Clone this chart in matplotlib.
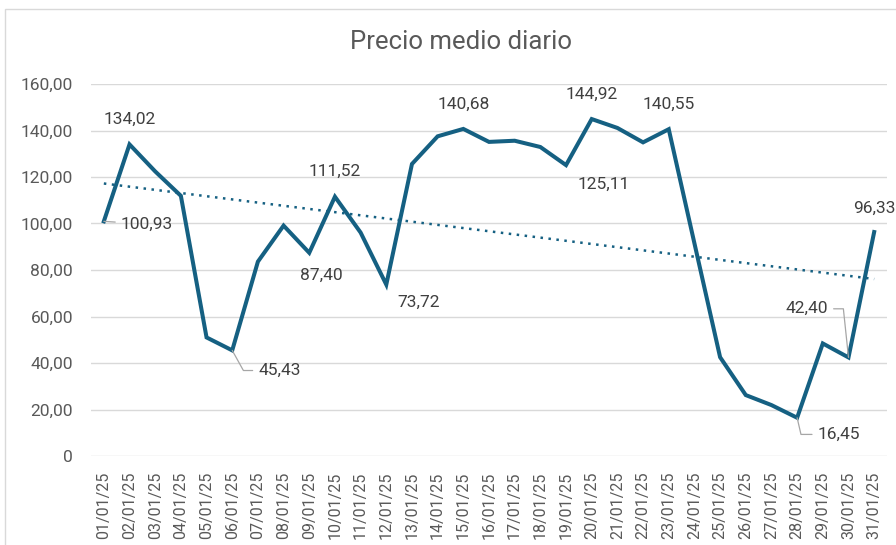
import numpy as np
import matplotlib.pyplot as plt
from matplotlib.patches import Rectangle
from matplotlib.ticker import FuncFormatter

plt.rcParams['font.family'] = ['Roboto', 'DejaVu Sans']

# Datos del gráfico
fechas = [f"{d:02d}/01/25" for d in range(1, 32)]
precios = [100.93, 134.02, 122.4, 111.9, 51.0, 45.43, 83.6, 99.1, 87.40, 111.52,
           96.1, 73.72, 125.6, 137.5, 140.68, 135.1, 135.6, 132.9, 125.11, 144.92,
           141.1, 134.9, 140.55, 91.5, 42.5, 26.2, 21.9, 16.45, 48.4, 42.40, 96.33]
y_ticks = [0, 20, 40, 60, 80, 100, 120, 140, 160]

# etiquetas: indice -> (dx, dy en puntos, angulo de la linea guia o None)
etiquetas = {
    0: (31, -2, 'recta'),
    1: (0, 18, None),
    5: (34, -14.5, -61),
    8: (9, -16, None),
    9: (0, 18, None),
    11: (23, -13, None),
    14: (0, 18, None),
    18: (27, -14, None),
    19: (0, 18, None),
    22: (0, 18, None),
    27: (30, -12, -77),
    29: (-30, 35, 96),
    30: (0, 17, None),
}

color = '#156082'
gris = '#595959'

fig = plt.figure(figsize=(8.96, 5.45), dpi=100)
fig.patches.append(Rectangle((5 / 896, 1 - 547 / 545), 895 / 896, 538 / 545,
                             transform=fig.transFigure, fill=False,
                             edgecolor='#D9D9D9', linewidth=1.0))
ax = fig.add_axes([91 / 896, 1 - 456 / 545, 796 / 896, 372 / 545])

x = np.arange(1, len(precios) + 1)
ax.plot(x, precios, color=color, linewidth=2.9, solid_joinstyle='miter', zorder=3)

# linea de tendencia lineal
m, b = np.polyfit(x, precios, 1)
ax.plot(x, m * x + b, color=color, linewidth=1.8, linestyle=(0, (1, 2.2)),
        zorder=2)

for i, (dx, dy, guia) in etiquetas.items():
    texto = f"{precios[i]:.2f}".replace('.', ',')
    ap = None
    if guia == 'recta':
        ap = dict(arrowstyle='-', color='#A6A6A6', linewidth=0.9,
                  shrinkA=2, shrinkB=0)
    elif guia is not None:
        ap = dict(arrowstyle='-', color='#A6A6A6', linewidth=0.9,
                  shrinkA=2, shrinkB=0,
                  connectionstyle=f'angle,angleA=0,angleB={guia},rad=0')
    ax.annotate(texto, (x[i], precios[i]), xytext=(dx, dy),
                textcoords='offset points', ha='center', va='center',
                fontsize=12.5, color='#404040', arrowprops=ap, zorder=4)

ax.set_xlim(0.5, len(precios) + 0.5)
ax.set_ylim(0, 160)
ax.set_yticks(y_ticks)
ax.yaxis.set_major_formatter(FuncFormatter(
    lambda v, p: '0' if v == 0 else f"{v:.2f}".replace('.', ',')))
ax.set_xticks(x)
ax.set_xticklabels(fechas, rotation=90)
ax.tick_params(axis='both', length=0, labelcolor=gris)
ax.tick_params(axis='y', pad=13, labelsize=12.5)
ax.tick_params(axis='x', pad=11, labelsize=11.5)
ax.grid(axis='y', color='#D9D9D9', linewidth=1.0)
ax.set_axisbelow(True)
for s in ax.spines.values():
    s.set_visible(False)

fig.text(461 / 896, 1 - 42 / 545, 'Precio medio diario', ha='center',
         va='center', fontsize=18.5, color=gris)

fig.savefig('out.png', dpi=100)
